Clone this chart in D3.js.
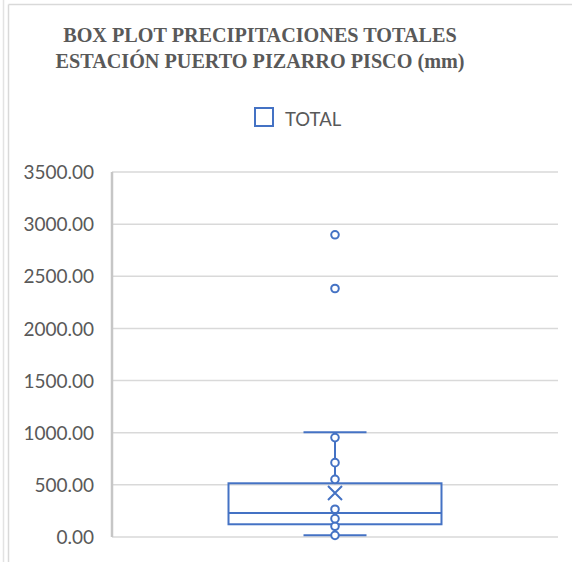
<!DOCTYPE html>
<html>
<head>
<meta charset="utf-8">
<script src="https://cdn.jsdelivr.net/npm/d3@7"></script>
<style>
  html, body { margin: 0; padding: 0; background: #ffffff; }
  svg { display: block; }
</style>
</head>
<body>
<svg id="chart" width="572" height="562"></svg>
<script>
// Precipitation totals, Puerto Pizarro Pisco station (mm)
const seriesName = "TOTAL";
const titleLines = ["BOX PLOT PRECIPITACIONES TOTALES", "ESTACIÓN PUERTO PIZARRO PISCO (mm)"];
const yTicks = [0, 500, 1000, 1500, 2000, 2500, 3000, 3500];

// Five-number summary and mean
const whiskerLow = [16];
const quartile1 = [122];
const medianVal = [230];
const quartile3 = [515];
const whiskerHigh = [1004];
const meanVal = [422];

// Individual observations shown as markers
const innerPoints = [16, 103, 176, 266, 553, 713, 953];
const outliers = [2383, 2898];

const svg = d3.select("#chart");
const blue = "#4472C4";
const grid = "#d9d9d9";
const textGrey = "#595959";

// Outer chart frame
svg.append("line").attr("x1", 3.5).attr("x2", 3.5).attr("y1", 0).attr("y2", 562)
  .attr("stroke", "#e3e3e3").attr("stroke-width", 1.5);
svg.append("line").attr("x1", 8.5).attr("x2", 8.5).attr("y1", 4.5).attr("y2", 562)
  .attr("stroke", grid).attr("stroke-width", 1.5);
svg.append("line").attr("x1", 8.5).attr("x2", 572).attr("y1", 4.5).attr("y2", 4.5)
  .attr("stroke", grid).attr("stroke-width", 1.5);

// Title
const title = svg.append("text")
  .attr("text-anchor", "middle")
  .attr("font-family", "'Liberation Serif', 'Times New Roman', serif")
  .attr("font-weight", "bold")
  .attr("font-size", 20.2)
  .attr("fill", textGrey);
titleLines.forEach((t, i) => {
  title.append("tspan").attr("x", 260).attr("y", 42 + i * 25.5).text(t);
});

// Legend
svg.append("rect").attr("x", 255).attr("y", 108).attr("width", 18).attr("height", 18)
  .attr("fill", "#fff").attr("stroke", blue).attr("stroke-width", 2);
svg.append("text").attr("x", 285).attr("y", 126)
  .attr("font-family", "Lato, 'Open Sans', sans-serif")
  .attr("font-size", 18.5).attr("fill", textGrey)
  .text(seriesName);

// Scales
const plotLeft = 112, plotRight = 558;
const y = d3.scaleLinear().domain([0, 3500]).range([537, 172]);
const x = d3.scaleBand().domain([seriesName]).range([plotLeft, plotRight]).paddingInner(0).paddingOuter(0.547);

// Gridlines and left axis
const yAxis = d3.axisLeft(y).tickValues(yTicks).tickFormat(d3.format(".2f")).tickSize(0).tickPadding(18);
const gAxis = svg.append("g").attr("transform", `translate(${plotLeft},0)`).call(yAxis);
gAxis.select(".domain").remove();
gAxis.selectAll("text")
  .attr("font-family", "Lato, 'Open Sans', sans-serif")
  .attr("font-size", 19).attr("fill", textGrey).attr("dy", "0.35em");

svg.append("g").selectAll("line").data(yTicks).join("line")
  .attr("x1", plotLeft).attr("x2", plotRight)
  .attr("y1", d => y(d)).attr("y2", d => y(d))
  .attr("stroke", grid).attr("stroke-width", 1.5);
svg.append("line").attr("x1", plotLeft).attr("x2", plotLeft)
  .attr("y1", y(3500)).attr("y2", y(0))
  .attr("stroke", "#c6c6c6").attr("stroke-width", 2.5);

// Box plot
const bx = x(seriesName), bw = x.bandwidth(), cx = bx + bw / 2;
const capW = 63;
const g = svg.append("g").attr("stroke", blue).attr("stroke-width", 2).attr("fill", "none");

// whiskers
g.append("line").attr("x1", cx).attr("x2", cx).attr("y1", y(quartile3[0])).attr("y2", y(whiskerHigh[0]));
g.append("line").attr("x1", cx).attr("x2", cx).attr("y1", y(quartile1[0])).attr("y2", y(whiskerLow[0]));
g.append("line").attr("x1", cx - capW / 2).attr("x2", cx + capW / 2).attr("y1", y(whiskerHigh[0])).attr("y2", y(whiskerHigh[0]));
g.append("line").attr("x1", cx - capW / 2).attr("x2", cx + capW / 2).attr("y1", y(whiskerLow[0])).attr("y2", y(whiskerLow[0]));

// box and median
g.append("rect").attr("x", bx).attr("width", bw)
  .attr("y", y(quartile3[0])).attr("height", y(quartile1[0]) - y(quartile3[0]));
g.append("line").attr("x1", bx).attr("x2", bx + bw).attr("y1", y(medianVal[0])).attr("y2", y(medianVal[0]));

// observations
g.selectAll("circle.pt").data(innerPoints.concat(outliers)).join("circle")
  .attr("class", "pt")
  .attr("cx", cx).attr("cy", d => y(d)).attr("r", 3.8)
  .attr("fill", "#fff");

// mean marker
const m = y(meanVal[0]), s = 7;
g.append("path").attr("d", `M${cx - s},${m - s}L${cx + s},${m + s}M${cx + s},${m - s}L${cx - s},${m + s}`);
</script>
</body>
</html>
